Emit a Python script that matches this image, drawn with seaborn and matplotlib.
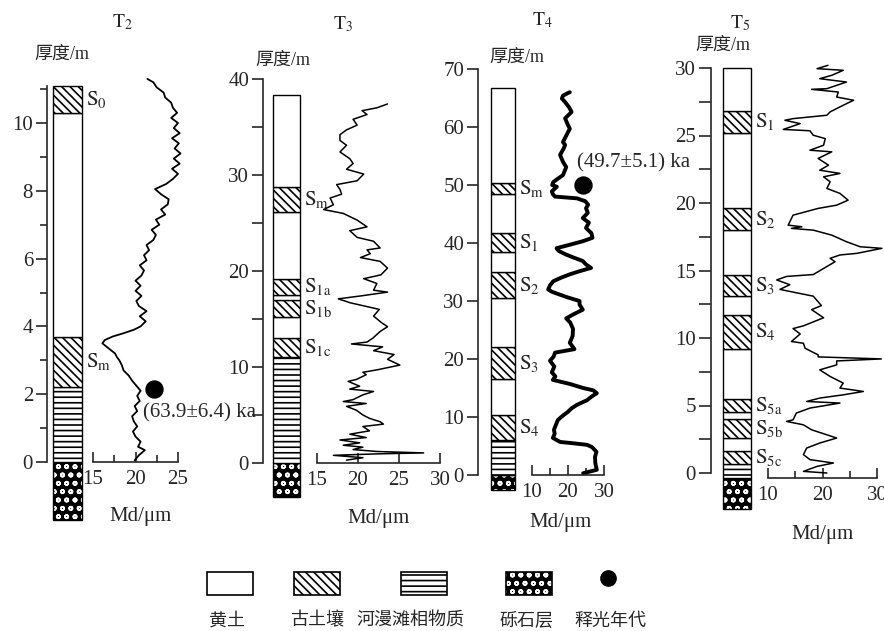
import matplotlib
matplotlib.use('Agg')
import matplotlib.pyplot as plt
from matplotlib.patches import Rectangle
import seaborn as sns

# ---- stratigraphic columns (depth in m) ----
t2_bot = [-1.7, 0.0, 2.2, 3.7, 10.3]
t2_top = [0.0, 2.2, 3.7, 10.3, 11.1]
t2_kind = ['gravel', 'flood', 'soil', 'loess', 'soil']
t2_soil = [r'$\mathrm{S_m}$', r'$\mathrm{S_0}$']

t3_bot = [-3.5, 0.0, 11.0, 13.0, 15.2, 17.0, 17.5, 19.2, 26.1, 28.8]
t3_top = [0.0, 11.0, 13.0, 15.2, 17.0, 17.5, 19.2, 26.1, 28.8, 38.3]
t3_kind = ['gravel', 'flood', 'soil', 'loess', 'soil', 'loess', 'soil', 'loess', 'soil', 'loess']
t3_soil = [r'$\mathrm{S_{1c}}$', r'$\mathrm{S_{1b}}$', r'$\mathrm{S_{1a}}$', r'$\mathrm{S_m}$']

t4_bot = [-2.6, 0.0, 6.0, 10.3, 16.5, 22.0, 30.5, 35.0, 38.5, 41.7, 48.4, 50.3]
t4_top = [0.0, 6.0, 10.3, 16.5, 22.0, 30.5, 35.0, 38.5, 41.7, 48.4, 50.3, 66.7]
t4_kind = ['gravel', 'flood', 'soil', 'loess', 'soil', 'loess', 'soil', 'loess', 'soil', 'loess', 'soil', 'loess']
t4_soil = [r'$\mathrm{S_4}$', r'$\mathrm{S_3}$', r'$\mathrm{S_2}$', r'$\mathrm{S_1}$', r'$\mathrm{S_m}$']

t5_bot = [-2.7, -0.4, 0.7, 1.6, 2.6, 4.0, 4.5, 5.5, 9.2, 11.7, 13.1, 14.7, 18.0, 19.6, 25.2, 26.8]
t5_top = [-0.4, 0.7, 1.6, 2.6, 4.0, 4.5, 5.5, 9.2, 11.7, 13.1, 14.7, 18.0, 19.6, 25.2, 26.8, 30.0]
t5_kind = ['gravel', 'flood', 'soil', 'loess', 'soil', 'loess', 'soil', 'loess', 'soil', 'loess',
           'soil', 'loess', 'soil', 'loess', 'soil', 'loess']
t5_soil = [r'$\mathrm{S_{5c}}$', r'$\mathrm{S_{5b}}$', r'$\mathrm{S_{5a}}$', r'$\mathrm{S_4}$',
           r'$\mathrm{S_3}$', r'$\mathrm{S_2}$', r'$\mathrm{S_1}$']

# ---- grain size curves: depth (m) and Md (um) ----
t2_depth = [0.05, 0.2, 0.35, 0.45, 0.6, 0.75, 0.9, 1.05, 1.2, 1.35,
            1.5, 1.65, 1.8, 1.95, 2.1, 2.25, 2.4, 2.55, 2.7, 2.85,
            3.0, 3.1, 3.2, 3.3, 3.4, 3.5, 3.6, 3.7, 3.8, 3.9,
            4.0, 4.15, 4.3, 4.45, 4.6, 4.75, 4.9, 5.05, 5.2, 5.35,
            5.5, 5.65, 5.8, 5.95, 6.1, 6.25, 6.4, 6.55, 6.7, 6.85,
            7.0, 7.15, 7.3, 7.45, 7.6, 7.75, 7.9, 8.05, 8.2, 8.35,
            8.5, 8.65, 8.8, 8.95, 9.1, 9.25, 9.4, 9.55, 9.7, 9.85,
            10.0, 10.15, 10.3, 10.45, 10.6, 10.75, 10.9, 11.05, 11.2, 11.3]
t2_md = [19.9, 20.4, 21.1, 20.3, 20.6, 20.0, 19.7, 20.2, 19.8, 19.6,
         20.2, 19.9, 20.5, 20.2, 20.6, 20.1, 19.6, 19.2, 18.6, 18.4,
         18.1, 17.8, 17.6, 17.1, 16.6, 16.1, 16.4, 17.3, 18.6, 19.8,
         20.6, 21.2, 20.5, 21.3, 20.4, 20.1, 20.7, 20.0, 20.6, 20.0,
         20.7, 21.0, 20.5, 21.3, 21.0, 21.6, 21.3, 22.1, 22.4, 21.9,
         22.8, 22.4, 23.5, 23.0, 23.8, 23.9, 23.0, 22.3, 23.6, 24.4,
         25.0, 24.3, 25.2, 24.5, 25.3, 24.6, 25.1, 24.3, 25.2, 24.5,
         25.0, 24.2, 24.9, 24.4, 24.2, 23.5, 23.3, 22.5, 22.1, 21.4]

t3_depth = [0.3, 0.55, 0.8, 0.95, 1.05, 1.2, 1.4, 1.65, 1.85, 2.1,
            2.4, 2.65, 3.0, 3.35, 3.8, 4.05, 4.3, 4.65, 5.0, 5.5,
            5.9, 6.2, 6.4, 6.6, 7.1, 7.45, 7.7, 8.0, 8.5, 8.7,
            9.2, 9.45, 9.7, 10.2, 10.8, 11.3, 11.7, 12.1, 12.4, 12.6,
            13.0, 13.7, 14.2, 14.6, 15.3, 16.0, 16.7, 17.1, 17.4, 17.8,
            18.0, 18.7, 19.2, 19.6, 20.3, 21.0, 21.4, 21.8, 22.2, 22.4,
            23.1, 23.5, 24.2, 24.6, 25.3, 26.0, 26.4, 26.9, 27.6, 28.0,
            28.5, 29.0, 29.4, 30.1, 30.6, 31.2, 31.7, 32.4, 33.1, 33.6,
            34.2, 34.7, 35.2, 35.8, 36.3, 36.7, 37.0, 37.4]
t3_md = [18.6, 20.6, 17.0, 22.3, 28.0, 22.3, 19.4, 20.6, 18.2, 20.2,
         17.8, 21.0, 19.0, 21.4, 20.6, 23.1, 22.7, 21.4, 20.6, 19.8,
         18.6, 21.0, 18.2, 19.4, 20.6, 21.9, 19.0, 20.2, 18.8, 19.8,
         21.0, 20.6, 22.3, 25.1, 23.6, 24.4, 21.9, 23.0, 19.2, 21.1,
         21.8, 22.7, 23.6, 22.9, 21.9, 22.6, 19.0, 17.6, 20.3, 23.6,
         21.9, 22.3, 20.7, 22.8, 23.6, 22.7, 20.3, 21.5, 21.1, 22.7,
         21.9, 19.9, 19.0, 21.1, 19.9, 18.2, 15.8, 17.0, 16.6, 18.0,
         17.8, 17.4, 19.9, 20.7, 18.6, 19.4, 19.0, 17.8, 18.6, 17.8,
         17.8, 18.6, 19.9, 19.4, 21.1, 20.5, 22.3, 23.6]

t4_depth = [0.3, 0.9, 2.0, 3.1, 4.0, 4.8, 5.2, 5.5, 5.7, 6.4,
            7.1, 7.8, 8.6, 9.5, 10.2, 10.9, 11.5, 12.1, 12.9, 13.5,
            14.1, 14.6, 15.0, 15.7, 16.4, 17.0, 17.7, 18.7, 19.7, 20.4,
            21.1, 21.7, 22.8, 24.0, 25.2, 26.3, 27.0, 27.7, 28.5, 29.4,
            30.0, 30.6, 31.1, 31.6, 32.0, 32.7, 33.4, 34.0, 34.6, 35.1,
            35.7, 36.3, 36.9, 37.5, 38.0, 38.6, 39.1, 39.7, 40.3, 40.9,
            41.7, 42.6, 43.5, 44.3, 45.2, 46.0, 46.6, 47.2, 47.7, 48.0,
            48.4, 48.9, 49.4, 49.7, 50.0, 50.5, 51.1, 51.7, 52.3, 53.1,
            54.0, 55.2, 56.3, 56.9, 57.4, 58.5, 59.7, 60.6, 61.5, 62.1,
            62.6, 63.4, 64.3, 64.9, 65.4, 65.8, 66.0]
t4_md = [24.2, 28.0, 27.6, 27.5, 27.9, 26.7, 25.3, 21.0, 17.8, 15.8,
         16.3, 16.1, 16.6, 17.2, 18.5, 20.0, 21.0, 22.5, 25.3, 26.5,
         28.0, 27.0, 24.2, 20.5, 15.8, 16.5, 15.5, 16.2, 15.0, 16.0,
         16.4, 21.8, 20.5, 21.3, 21.4, 20.6, 19.5, 21.5, 24.1, 23.2,
         23.2, 20.0, 17.7, 15.5, 14.5, 15.0, 15.9, 18.0, 20.5, 23.0,
         26.4, 25.0, 24.1, 21.5, 19.5, 17.5, 16.8, 20.5, 24.1, 26.8,
         26.5, 25.0, 25.8, 24.1, 25.5, 25.0, 25.6, 24.8, 22.5, 16.4,
         15.8, 15.5, 16.4, 16.9, 15.6, 15.9, 17.2, 18.6, 19.0, 19.5,
         18.6, 17.8, 18.8, 19.2, 18.6, 19.5, 20.5, 19.8, 19.2, 20.2,
         21.0, 20.3, 19.2, 18.3, 18.6, 19.8, 20.5]

t5_depth = [30.2, 29.95, 29.83, 29.46, 29.21, 28.96, 28.47, 28.42, 28.22, 27.85,
            27.61, 27.24, 26.75, 26.5, 26.25, 26.13, 25.88, 25.45, 25.35, 25.02,
            24.77, 24.28, 23.91, 23.79, 23.3, 22.8, 22.43, 22.19, 21.94, 21.57,
            21.08, 20.71, 20.21, 19.84, 19.6, 19.1, 18.36, 18.24, 18.12, 17.99,
            17.62, 17.13, 16.76, 16.64, 16.27, 16.15, 15.9, 15.65, 14.7, 14.56,
            14.3, 13.95, 13.6, 13.35, 13.1, 12.4, 12.1, 11.5, 10.9, 10.7,
            10.3, 9.74, 9.61, 9.24, 8.75, 8.6, 8.45, 8.3, 8.01, 7.64,
            7.15, 6.66, 6.29, 6.04, 5.79, 5.55, 5.3, 5.18, 4.81, 4.44,
            3.94, 3.82, 3.57, 3.2, 2.83, 2.59, 2.22, 1.85, 1.36, 0.99,
            0.74, 0.49, 0.12, 0.0]
t5_md = [21.0, 19.0, 23.8, 21.7, 19.5, 24.4, 20.8, 18.0, 22.9, 22.6,
         25.7, 23.8, 21.4, 20.8, 14.6, 13.1, 15.9, 12.8, 17.7, 18.3,
         20.5, 20.2, 17.7, 21.7, 19.2, 21.1, 19.5, 23.2, 20.2, 21.4,
         20.8, 23.2, 24.7, 22.6, 19.2, 14.6, 13.7, 16.2, 14.3, 18.3,
         21.7, 24.4, 26.9, 30.9, 26.3, 23.2, 21.4, 22.3, 18.3, 13.4,
         11.6, 14.0, 12.2, 15.2, 18.3, 19.8, 18.0, 20.2, 16.5, 14.6,
         15.9, 14.3, 16.5, 16.8, 19.2, 19.2, 30.8, 22.6, 22.6, 19.5,
         21.4, 23.8, 23.2, 27.5, 23.8, 19.5, 17.1, 23.2, 17.7, 15.2,
         14.6, 13.4, 16.5, 18.0, 20.8, 22.6, 19.5, 17.1, 16.5, 17.7,
         22.0, 19.0, 16.5, 20.8]

# OSL dates: Md, depth of the dot and the age text
t2_osl = ([22.2], [2.15], '(63.9±6.4) ka')
t4_osl = ([24.2], [50.0], '(49.7±5.1) ka')

legend_names = ['黄土', '古土壤', '河漫滩相物质', '砾石层', '释光年代']

# ---- style ----
sns.set_style('ticks')
plt.rcParams['font.family'] = ['Liberation Serif', 'Noto Sans CJK SC']
plt.rcParams['mathtext.fontset'] = 'stix'
plt.rcParams['hatch.linewidth'] = 1.2
FS = 15

W, H = 884, 631
fig = plt.figure(figsize=(W / 100, H / 100), dpi=100)

# overlay in pixel coords for free texts and the legend
ov = fig.add_axes([0, 0, 1, 1])
ov.set_xlim(0, W)
ov.set_ylim(H, 0)
ov.axis('off')

STY = {'loess': dict(color='white', hatch=None),
       'soil': dict(color='white', hatch='\\\\\\\\'),
       'flood': dict(color='white', hatch='---')}

Y_TOP, Y_BOT = 60, 545


def px_ax(x0, x1):
    return fig.add_axes([x0 / W, 1 - Y_BOT / H, (x1 - x0) / W, (Y_BOT - Y_TOP) / H])


def draw_rect(ax, xc, w, b, h, kind):
    if kind == 'gravel':
        ax.bar(xc, h, bottom=b, width=w, color='black', edgecolor='white', hatch='oo', linewidth=0)
        ax.bar(xc, h, bottom=b, width=w, fill=False, edgecolor='black', linewidth=1.0)
    else:
        s = STY[kind]
        ax.bar(xc, h, bottom=b, width=w, color=s['color'], hatch=s['hatch'],
               edgecolor='black', linewidth=1.0)


def panel(cfg, bots, tops, kinds, soils, depth, md, lw, osl=None):
    zero, ppm = cfg['zero'], cfg['ppm']
    ylim = ((zero - Y_BOT) / ppm, (zero - Y_TOP) / ppm)
    sx, c0, c1 = cfg['spine'], cfg['col'][0], cfg['col'][1]

    # column + depth axis
    ax = px_ax(sx, c1 + 2)
    ax.set_facecolor('none')
    ax.set_xlim(sx, c1 + 2)
    ax.set_ylim(*ylim)
    for s in ['top', 'right', 'bottom']:
        ax.spines[s].set_visible(False)
    ax.spines['left'].set_bounds(0, cfg['ytop'])
    ax.spines['left'].set_linewidth(1.2)
    ax.set_xticks([])
    ax.set_yticks(cfg['ymaj'])
    ax.set_yticks(cfg['ymin'], minor=True)
    ax.tick_params(axis='y', which='major', direction='out', length=cfg['tl'][0], width=1.2,
                   labelsize=FS, pad=2)
    ax.tick_params(axis='y', which='minor', direction='out', length=cfg['tl'][1], width=1.2)
    k = 0
    for b, t, kind in zip(bots, tops, kinds):
        draw_rect(ax, (c0 + c1) / 2, c1 - c0, b, t - b, kind)
        if kind == 'soil':
            ax.text(c1 + 4, (b + t) / 2, soils[k], fontsize=FS, ha='left', va='center')
            k += 1

    # grain size curve
    (m0, p0), (m1, p1) = cfg['md']
    sc = (p1 - p0) / (m1 - m0)
    cx0, cx1 = cfg['cx']
    axc = px_ax(cx0, cx1)
    axc.set_facecolor('none')
    sns.lineplot(x=md, y=depth, sort=False, estimator=None, color='black',
                 linewidth=lw, ax=axc)
    if osl is not None:
        sns.scatterplot(x=osl[0], y=osl[1], s=150, color='black', edgecolor='black',
                        ax=axc, zorder=5)
    axc.set_xlim(m0 + (cx0 - p0) / sc, m0 + (cx1 - p0) / sc)
    axc.set_ylim(*ylim)
    for s in ['top', 'right', 'left']:
        axc.spines[s].set_visible(False)
    axc.spines['bottom'].set_position(('data', cfg['xdepth']))
    axc.spines['bottom'].set_bounds(cfg['xmaj'][0], cfg['xmaj'][-1])
    axc.spines['bottom'].set_linewidth(1.2)
    axc.set_yticks([])
    axc.set_xticks(cfg['xmaj'])
    axc.set_xticks(cfg['xmin'], minor=True)
    axc.tick_params(axis='x', which='major', direction='in', length=7, width=1.2,
                    labelsize=FS, pad=6)
    axc.tick_params(axis='x', which='minor', direction='in', length=5, width=1.2)
    axc.set_xlabel('')
    axc.set_ylabel('')
    return ax, axc


cfgs = {
    'T2': dict(zero=462, ppm=33.9, spine=47, col=(53, 82), ytop=11.1,
               ymaj=[0, 2, 4, 6, 8, 10], ymin=[1, 3, 5, 7, 9, 11], tl=(8, 5),
               md=((15, 93), (25, 178)), cx=(76, 205), xdepth=0.0,
               xmaj=[15, 20, 25], xmin=[17.5, 22.5]),
    'T3': dict(zero=463, ppm=9.6, spine=263, col=(273, 300), ytop=40,
               ymaj=[0, 10, 20, 30, 40], ymin=[5, 15, 25, 35], tl=(8, 8),
               md=((15, 317), (30, 440)), cx=(301, 458), xdepth=0.0,
               xmaj=[15, 20, 25, 30], xmin=[]),
    'T4': dict(zero=475, ppm=5.8, spine=478, col=(491, 515), ytop=70,
               ymaj=[0, 10, 20, 30, 40, 50, 60, 70], ymin=[], tl=(8, 5),
               md=((10, 532), (30, 604)), cx=(516, 625), xdepth=0.0,
               xmaj=[10, 20, 30], xmin=[15, 25]),
    'T5': dict(zero=473, ppm=13.5, spine=711, col=(723, 751), ytop=30,
               ymaj=[0, 5, 10, 15, 20, 25, 30], ymin=[2.5, 7.5, 12.5, 17.5, 22.5, 27.5], tl=(9, 9),
               md=((10, 768), (30, 877)), cx=(752, 884), xdepth=-0.37,
               xmaj=[10, 20, 30], xmin=[15, 25]),
}

panel(cfgs['T2'], t2_bot, t2_top, t2_kind, t2_soil, t2_depth, t2_md, 1.3, t2_osl)
panel(cfgs['T3'], t3_bot, t3_top, t3_kind, t3_soil, t3_depth, t3_md, 1.1)
panel(cfgs['T4'], t4_bot, t4_top, t4_kind, t4_soil, t4_depth, t4_md, 2.8, t4_osl)
panel(cfgs['T5'], t5_bot, t5_top, t5_kind, t5_soil, t5_depth, t5_md, 1.1)

# titles, axis labels, age texts
for name, (x, y) in zip(['T2', 'T3', 'T4', 'T5'], [(122, 22), (343, 24), (542, 20), (740, 23)]):
    ov.text(x, y, r'$\mathrm{T_%s}$' % name[1], fontsize=14, ha='center', va='center')
for x, y in [(62, 54), (283, 60), (517, 57), (723, 45)]:
    ov.text(x, y, '厚度/m', fontsize=13, ha='center', va='center')
for x, y in [(140, 517), (378, 518), (560, 522), (822, 534)]:
    ov.text(x, y, 'Md/μm', fontsize=FS, ha='center', va='center')
ov.text(143, 413, t2_osl[2], fontsize=FS, ha='left', va='center')
ov.text(577, 163, t4_osl[2], fontsize=FS, ha='left', va='center')

# legend
box_y, box_h, box_w = 572, 23, 46
for xc, kind in zip([230, 317, 424, 529], ['loess', 'soil', 'flood', 'gravel']):
    if kind == 'gravel':
        ov.add_patch(Rectangle((xc - box_w / 2, box_y), box_w, box_h, facecolor='black',
                               edgecolor='white', hatch='oo', linewidth=0))
        ov.add_patch(Rectangle((xc - box_w / 2, box_y), box_w, box_h, fill=False,
                               edgecolor='black', linewidth=1.2))
    else:
        ov.add_patch(Rectangle((xc - box_w / 2, box_y), box_w, box_h, facecolor='white',
                               edgecolor='black', hatch=STY[kind]['hatch'], linewidth=1.2))
ov.plot([608], [578], 'o', color='black', markersize=11)
for xc, name in zip([227, 317, 410, 527, 610], legend_names):
    ov.text(xc, 621, name, fontsize=13, ha='center', va='center')

fig.savefig('out.png', dpi=100)
